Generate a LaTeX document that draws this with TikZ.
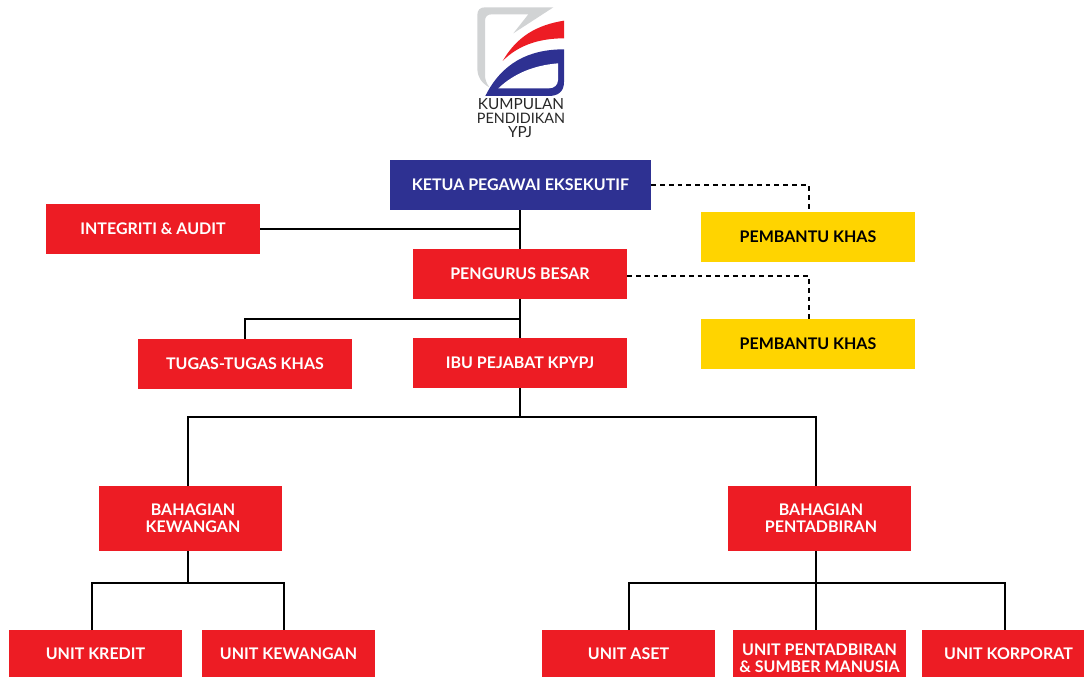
\documentclass[tikz,border=0pt]{standalone}
\usepackage{tikz}
\usepackage{fontspec}
\setmainfont{Lato}
\definecolor{boxred}{HTML}{ED1C24}
\definecolor{boxblue}{HTML}{2E3192}
\definecolor{boxyellow}{HTML}{FFD400}
\definecolor{logogrey}{HTML}{D1D3D4}
\newcommand{\nudge}[1]{\hspace*{#1pt}}
\tikzset{
  box/.style={fill=boxred,text=white,font=\bfseries\fontsize{12}{12.75}\selectfont,align=center,inner sep=0pt,minimum width=160.5pt,minimum height=37.5pt},
  smallbox/.style={box,minimum width=129.75pt,minimum height=36pt},
  midbox/.style={box,minimum width=137.25pt,minimum height=48.75pt},
  yellowbox/.style={box,fill=boxyellow,text=black},
  logotext/.style={inner sep=0pt,font=\fontsize{11.5}{12}\selectfont,text=black!85},
  solidline/.style={line width=1.5pt,black},
  dashline/.style={line width=1.5pt,black,dash pattern=on 3.6pt off 3pt}
}
\begin{document}
\begin{tikzpicture}[x=0.75pt,y=-0.75pt]
\path[use as bounding box,clip] (0,0) rectangle (1084,677);
% logo
\begin{scope}[shift={(470,0)},x=0.25pt,y=-0.25pt]
\fill[logogrey] (45,22) -- (250,22) -- (130,100) -- (175,43) -- (65,43) .. controls (52,43) and (45,50) .. (45,63) -- (45,225) .. controls (45,240) and (50,250) .. (58,262) .. controls (35,250) and (22,230) .. (22,205) -- (22,45) .. controls (22,30) and (30,22) .. (45,22) -- cycle;
\fill[boxred] (98,183) .. controls (140,110) and (200,75) .. (282,62) -- (282,115) .. controls (200,115) and (140,140) .. (98,183) -- cycle;
\fill[boxblue] (46,288) .. controls (95,190) and (175,148) .. (282,148) -- (282,245) .. controls (282,275) and (265,288) .. (235,288) -- cycle;
\fill[white] (85,265) .. controls (130,222) and (190,196) .. (264,190) -- (264,240) .. controls (264,255) and (252,265) .. (237,265) -- cycle;
\end{scope}
\node[logotext] (l0) at (521,104) {KUMPULAN};
\node[logotext,font=\fontsize{10.8}{12}\selectfont] (l1) at (521,118) {PENDIDIKAN};
\node[logotext] (l2) at (520,132) {YPJ};
% boxes
\node[box,fill=boxblue,minimum width=195.75pt] (v0) at (520.5,185) {KETUA PEGAWAI EKSEKUTIF};
\node[box] (v1) at (153,229) {INTEGRITI \& AUDIT};
\node[yellowbox] (v2) at (808,237) {PEMBANTU KHAS};
\node[box] (v3) at (520,274) {PENGURUS BESAR};
\node[yellowbox] (v4) at (808,344) {PEMBANTU KHAS};
\node[box] (v5) at (245,364) {TUGAS-TUGAS KHAS};
\node[box] (v6) at (520,363) {IBU PEJABAT KPYPJ};
\node[midbox] (v7) at (190.5,518.5) {\nudge{3.75}BAHAGIAN\\\nudge{3.75}KEWANGAN};
\node[midbox] (v8) at (819.5,518.5) {\nudge{2.25}BAHAGIAN\\\nudge{2.25}PENTADBIRAN};
\node[smallbox] (v9) at (95.5,654) {UNIT KREDIT};
\node[smallbox] (v10) at (288.5,654) {UNIT KEWANGAN};
\node[smallbox] (v11) at (628.5,654) {UNIT ASET};
\node[smallbox] (v12) at (819.5,654) {\rule{0pt}{15pt}UNIT PENTADBIRAN\\\& SUMBER MANUSIA};
\node[smallbox] (v13) at (1008.5,654) {UNIT KORPORAT};
% junctions
\coordinate (j0) at (520,229);
\coordinate (j1) at (520,319);
\coordinate (j2) at (520,417);
\coordinate (j3) at (188,583);
\coordinate (j4) at (816,583);
\coordinate (t2) at (808.5,212);
\coordinate (t4) at (808.5,319);
\coordinate (t7) at (188,486);
\coordinate (t8) at (816,486);
\coordinate (s7) at (188,551);
\coordinate (s8) at (816,551);
\coordinate (t9) at (92,630);
\coordinate (t10) at (284,630);
\coordinate (t11) at (628.5,630);
\coordinate (t12) at (816,630);
\coordinate (t13) at (1005,630);
% connectors
\draw[solidline] (v3.north |- v0.south) -- (v3.north);
\draw[solidline] (v1.east) -- (j0);
\draw[solidline] (v3.south) -- (v6.north);
\draw[solidline] (j1) -| (v5.north);
\draw[solidline] (v6.south) -- (j2);
\draw[solidline] (t7) |- (j2) -| (t8);
\draw[solidline] (s7) -- (j3);
\draw[solidline] (t9) |- (j3) -| (t10);
\draw[solidline] (s8) -- (t12);
\draw[solidline] (t11) |- (j4) -| (t13);
\draw[dashline] (v0.east) -| (t2);
\draw[dashline] (v3.east |- 0,275.5) -| (t4);
\end{tikzpicture}
\end{document}
